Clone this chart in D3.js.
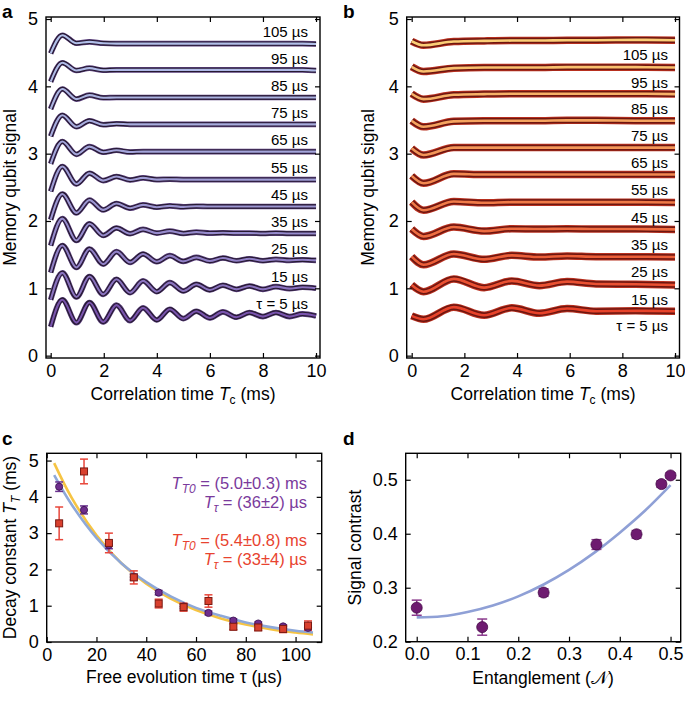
<!DOCTYPE html>
<html><head><meta charset="utf-8">
<script src="https://cdn.jsdelivr.net/npm/d3@7"></script>
<style>body{margin:0;background:#fff}</style>
</head><body><svg id="chart" width="685" height="701"></svg>
<script>
// ---------- DATA ----------
const tauValues = [5, 15, 25, 35, 45, 55, 65, 75, 85, 95, 105];
const traceLabels = ["\u03C4 = 5 \u00B5s", "15 \u00B5s", "25 \u00B5s", "35 \u00B5s", "45 \u00B5s", "55 \u00B5s", "65 \u00B5s", "75 \u00B5s", "85 \u00B5s", "95 \u00B5s", "105 \u00B5s"];

// panel a: correlation time (ms) of extrema, and signal at those times (one row per tau)
const timesA = [0, 0.44, 0.97, 1.46, 1.98, 2.48, 2.99, 3.48, 4.0, 4.49, 5.0, 5.49, 6.0, 6.49, 7.0, 7.49, 8.0, 8.49, 9.0, 9.49, 10.0];
const signalA5   = [0.43, 0.83, 0.49, 0.79, 0.50, 0.75, 0.52, 0.71, 0.53, 0.69, 0.55, 0.66, 0.56, 0.65, 0.57, 0.64, 0.58, 0.64, 0.58, 0.62, 0.59];
const signalA15  = [0.83, 1.23, 0.87, 1.175, 0.91, 1.135, 0.935, 1.11, 0.95, 1.085, 0.96, 1.06, 0.975, 1.045, 0.985, 1.035, 0.985, 1.025, 0.995, 1.015, 1.0];
const signalA25  = [1.235, 1.635, 1.31, 1.585, 1.36, 1.545, 1.385, 1.51, 1.395, 1.485, 1.40, 1.46, 1.405, 1.45, 1.41, 1.44, 1.41, 1.43, 1.415, 1.425, 1.415];
const signalA35  = [1.635, 2.035, 1.71, 1.96, 1.785, 1.895, 1.81, 1.875, 1.82, 1.85, 1.815, 1.835, 1.82, 1.825, 1.82, 1.82, 1.815, 1.82, 1.815, 1.815, 1.815];
const signalA45  = [2.02, 2.40, 2.12, 2.31, 2.165, 2.26, 2.19, 2.24, 2.205, 2.225, 2.21, 2.22, 2.215, 2.215, 2.215, 2.215, 2.215, 2.215, 2.215, 2.215, 2.215];
const signalA55  = [2.44, 2.81, 2.55, 2.71, 2.60, 2.66, 2.61, 2.64, 2.615, 2.62, 2.615, 2.615, 2.615, 2.615, 2.615, 2.615, 2.615, 2.615, 2.615, 2.615, 2.615];
const signalA65  = [2.85, 3.18, 2.99, 3.105, 3.02, 3.05, 3.025, 3.03, 3.03, 3.03, 3.03, 3.03, 3.03, 3.03, 3.03, 3.03, 3.03, 3.03, 3.03, 3.03, 3.03];
const signalA75  = [3.26, 3.57, 3.40, 3.49, 3.43, 3.445, 3.435, 3.435, 3.435, 3.435, 3.435, 3.435, 3.435, 3.435, 3.435, 3.435, 3.435, 3.435, 3.435, 3.435, 3.435];
const signalA85  = [3.665, 3.96, 3.81, 3.87, 3.83, 3.835, 3.835, 3.835, 3.835, 3.835, 3.835, 3.835, 3.835, 3.835, 3.835, 3.835, 3.835, 3.835, 3.835, 3.835, 3.835];
const signalA95  = [4.07, 4.35, 4.235, 4.27, 4.24, 4.245, 4.245, 4.245, 4.245, 4.245, 4.245, 4.245, 4.245, 4.245, 4.245, 4.245, 4.245, 4.245, 4.245, 4.245, 4.235];
const signalA105 = [4.49, 4.76, 4.64, 4.66, 4.64, 4.635, 4.635, 4.635, 4.635, 4.635, 4.635, 4.635, 4.635, 4.635, 4.635, 4.635, 4.635, 4.635, 4.635, 4.635, 4.63];

// panel b
const timesB = [0, 0.45, 1.6, 2.75, 3.8, 4.85, 5.9, 7.0, 8.5, 10.0];
const signalB5   = [0.59, 0.54, 0.72, 0.60, 0.71, 0.63, 0.70, 0.66, 0.665, 0.66];
const signalB15  = [1.05, 0.95, 1.14, 1.01, 1.11, 1.04, 1.10, 1.065, 1.06, 1.05];
const signalB25  = [1.47, 1.35, 1.51, 1.43, 1.49, 1.465, 1.48, 1.47, 1.47, 1.465];
const signalB35  = [1.88, 1.77, 1.91, 1.85, 1.885, 1.88, 1.885, 1.88, 1.88, 1.875];
const signalB45  = [2.28, 2.16, 2.29, 2.27, 2.28, 2.28, 2.28, 2.28, 2.28, 2.275];
const signalB55  = [2.67, 2.56, 2.70, 2.69, 2.69, 2.69, 2.69, 2.69, 2.69, 2.69];
const signalB65  = [3.08, 2.98, 3.09, 3.09, 3.09, 3.09, 3.09, 3.09, 3.09, 3.09];
const signalB75  = [3.49, 3.40, 3.48, 3.49, 3.49, 3.49, 3.495, 3.495, 3.49, 3.49];
const signalB85  = [3.89, 3.81, 3.875, 3.885, 3.89, 3.89, 3.89, 3.89, 3.89, 3.885];
const signalB95  = [4.29, 4.22, 4.27, 4.28, 4.28, 4.28, 4.285, 4.285, 4.285, 4.28];
const signalB105 = [4.67, 4.61, 4.665, 4.675, 4.68, 4.68, 4.685, 4.685, 4.69, 4.685];

// panel c: decay constants (ms)
const tauC = [5, 15, 25, 35, 45, 55, 65, 75, 85, 95, 105];
const decayA    = [4.28, 3.64, 2.67, 1.79, 1.36, 0.98, 0.80, 0.59, 0.51, 0.43, 0.39];
const decayAErr = [0.13, 0.11, 0.10, 0.08, 0.06, 0.06, 0.05, 0.05, 0.04, 0.04, 0.04];
const decayB    = [3.27, 4.70, 2.73, 1.78, 1.06, 0.96, 1.13, 0.42, 0.40, 0.36, 0.45];
const decayBErr = [0.45, 0.34, 0.27, 0.18, 0.12, 0.11, 0.17, 0.08, 0.08, 0.10, 0.13];
const fitTauC    = [3, 10, 20, 30, 40, 50, 60, 70, 80, 90, 100, 107];
const fitBlueC   = [4.60, 3.79, 2.87, 2.17, 1.65, 1.25, 0.94, 0.72, 0.54, 0.41, 0.31, 0.26];
const fitYellowC = [4.93, 3.98, 2.94, 2.17, 1.61, 1.19, 0.88, 0.65, 0.48, 0.35, 0.26, 0.21];

// panel d
const entanglement = [0.0, 0.129, 0.25, 0.354, 0.433, 0.482, 0.5];
const contrast     = [0.263, 0.227, 0.291, 0.380, 0.399, 0.492, 0.508];
const contrastErr  = [0.014, 0.015, 0.007, 0.009, 0.007, 0.006, 0.005];
const fitEnt       = [0, 0.05, 0.1, 0.15, 0.2, 0.25, 0.3, 0.35, 0.4, 0.45, 0.5];
const fitContrast  = [0.245, 0.247, 0.255, 0.267, 0.284, 0.306, 0.333, 0.365, 0.402, 0.443, 0.490];

const ticksA = [0, 2, 4, 6, 8, 10], ticksAy = [0, 1, 2, 3, 4, 5];
const ticksCx = [0, 20, 40, 60, 80, 100], ticksCy = [0, 1, 2, 3, 4, 5];
const ticksDx = [0, 0.1, 0.2, 0.3, 0.4, 0.5], ticksDy = [0.2, 0.3, 0.4, 0.5];

// ---------- DRAW ----------
const FONT = '"Liberation Sans", Arial, Helvetica, sans-serif';
const svg = d3.select("#chart").attr("font-family", FONT);
svg.append("rect").attr("width", 685).attr("height", 701).attr("fill", "#fff");

function styleAxis(sel) {
  sel.select(".domain").remove();
  sel.selectAll("line").attr("stroke", "#000").attr("stroke-width", 1.2);
  sel.attr("font-family", FONT).attr("font-size", 18);
  sel.selectAll("text").attr("fill", "#000");
}
function drawFrame(x, y, xt, yt, xf, yf) {
  const [x0, x1] = x.range(), [yb, yt0] = y.range();
  const g = svg.append("g");
  g.append("g").attr("transform", `translate(0,${yb})`)
    .call(d3.axisBottom(x).tickValues(xt).tickFormat(xf).tickSizeInner(-5).tickSizeOuter(0).tickPadding(6)).call(styleAxis);
  g.append("g").attr("transform", `translate(0,${yt0})`)
    .call(d3.axisTop(x).tickValues(xt).tickFormat("").tickSizeInner(-5).tickSizeOuter(0)).call(styleAxis);
  g.append("g").attr("transform", `translate(${x0},0)`)
    .call(d3.axisLeft(y).tickValues(yt).tickFormat(yf).tickSizeInner(-5).tickSizeOuter(0).tickPadding(8)).call(styleAxis);
  g.append("g").attr("transform", `translate(${x1},0)`)
    .call(d3.axisRight(y).tickValues(yt).tickFormat("").tickSizeInner(-5).tickSizeOuter(0)).call(styleAxis);
  g.append("rect").attr("x", x0).attr("y", yt0).attr("width", x1 - x0).attr("height", yb - yt0)
    .attr("fill", "none").attr("stroke", "#000").attr("stroke-width", 1.4);
}
function panelLetter(t, x, y) {
  svg.append("text").attr("x", x).attr("y", y).attr("font-weight", "bold").attr("font-size", 19).text(t);
}
function yTitle(x, y, parts) {
  const t = svg.append("text").attr("transform", `translate(${x},${y}) rotate(-90)`)
    .attr("text-anchor", "middle").attr("font-size", 17.5);
  parts.forEach(p => addPart(t, p));
}
function xTitle(x, y, parts) {
  const t = svg.append("text").attr("x", x).attr("y", y).attr("text-anchor", "middle").attr("font-size", 17.5);
  parts.forEach(p => addPart(t, p));
}
function addPart(t, p) {
  const s = t.append("tspan").text(p.t);
  if (p.i) s.attr("font-style", "italic");
  if (p.fs) s.attr("font-size", p.fs);
  if (p.dy) s.attr("dy", p.dy);
  if (p.fill) s.attr("fill", p.fill);
}

// ----- panel a -----
const xa = d3.scaleLinear().domain([-0.177, 10.15]).range([46, 320]);
const ya = d3.scaleLinear().domain([-0.035, 5.03]).range([358, 17]);
const signalsA = [signalA5, signalA15, signalA25, signalA35, signalA45, signalA55, signalA65, signalA75, signalA85, signalA95, signalA105];
const lineA = d3.line().x(d => xa(d[0])).y(d => ya(d[1])).curve(d3.curveMonotoneX);
const colA = i => d3.interpolateRgb("#7a54ae", "#b2bfea")(Math.pow(i / 10, 0.55));
signalsA.forEach((s, i) => {
  const pts = timesA.map((t, k) => [t, s[k]]);
  svg.append("path").attr("d", lineA(pts)).attr("fill", "none").attr("stroke", "#5a3f7c").attr("stroke-width", 5.6).attr("stroke-linejoin", "round");
  svg.append("path").attr("d", lineA(pts)).attr("fill", "none").attr("stroke", "#261932").attr("stroke-width", 4.4).attr("stroke-linejoin", "round");
  svg.append("path").attr("d", lineA(pts)).attr("fill", "none").attr("stroke", colA(i)).attr("stroke-width", 2.1);
  svg.append("text").attr("x", xa(10) - 8).attr("y", ya(s[s.length - 1] + 0.1))
    .attr("text-anchor", "end").attr("font-size", 15).text(traceLabels[i]);
});
drawFrame(xa, ya, ticksA, ticksAy, d3.format("d"), d3.format("d"));

// ----- panel b -----
const xb = d3.scaleLinear().domain([-0.19, 10.17]).range([406.7, 679.5]);
const yb = d3.scaleLinear().domain([-0.035, 5.03]).range([358, 17]);
const signalsB = [signalB5, signalB15, signalB25, signalB35, signalB45, signalB55, signalB65, signalB75, signalB85, signalB95, signalB105];
const lineB = d3.line().x(d => xb(d[0])).y(d => yb(d[1])).curve(d3.curveMonotoneX);
const colB = i => d3.interpolateRgb("#e8432a", "#fbce76")(i / 10);
signalsB.forEach((s, i) => {
  const pts = timesB.map((t, k) => [t, s[k]]);
  svg.append("path").attr("d", lineB(pts)).attr("fill", "none").attr("stroke", "#b8301f").attr("stroke-width", 7.5).attr("stroke-linejoin", "round");
  svg.append("path").attr("d", lineB(pts)).attr("fill", "none").attr("stroke", "#6e1610").attr("stroke-width", 5.6).attr("stroke-linejoin", "round");
  svg.append("path").attr("d", lineB(pts)).attr("fill", "none").attr("stroke", colB(i)).attr("stroke-width", 2.6);
  svg.append("text").attr("x", xb(10) - 7).attr("y", yb(s[s.length - 1] - 0.3))
    .attr("text-anchor", "end").attr("font-size", 15).text(traceLabels[i]);
});
drawFrame(xb, yb, ticksA, ticksAy, d3.format("d"), d3.format("d"));

// ----- panel c -----
const xc = d3.scaleLinear().domain([0, 110.5]).range([46.7, 321.7]);
const yc = d3.scaleLinear().domain([0, 5.2]).range([642, 453.3]);
const lineC = d3.line().x(d => xc(d[0])).y(d => yc(d[1])).curve(d3.curveCatmullRom);
svg.append("path").attr("d", lineC(fitTauC.map((t, k) => [t, fitYellowC[k]]))).attr("fill", "none").attr("stroke", "#f6c443").attr("stroke-width", 2.6);
svg.append("path").attr("d", lineC(fitTauC.map((t, k) => [t, fitBlueC[k]]))).attr("fill", "none").attr("stroke", "#8ea8d8").attr("stroke-width", 2.6);
function errBars(xs, ys, es, xS, yS, col, cap) {
  xs.forEach((t, k) => {
    const X = xS(t), Y0 = yS(ys[k] - es[k]), Y1 = yS(ys[k] + es[k]);
    const g = svg.append("g").attr("stroke", col).attr("stroke-width", 1.5);
    g.append("line").attr("x1", X).attr("x2", X).attr("y1", Y0).attr("y2", Y1);
    g.append("line").attr("x1", X - cap).attr("x2", X + cap).attr("y1", Y0).attr("y2", Y0);
    g.append("line").attr("x1", X - cap).attr("x2", X + cap).attr("y1", Y1).attr("y2", Y1);
  });
}
errBars(tauC, decayB, decayBErr, xc, yc, "#e8463a", 4);
errBars(tauC, decayA, decayAErr, xc, yc, "#6a3290", 4);
tauC.forEach((t, k) => {
  svg.append("circle").attr("cx", xc(t)).attr("cy", yc(decayA[k])).attr("r", 3.6)
    .attr("fill", "#6e2d8c").attr("stroke", "#3a1050").attr("stroke-width", 0.8);
});
tauC.forEach((t, k) => {
  svg.append("rect").attr("x", xc(t) - 3.5).attr("y", yc(decayB[k]) - 3.5).attr("width", 7).attr("height", 7)
    .attr("fill", "#d9402e").attr("stroke", "#7a1a12").attr("stroke-width", 1);
});
drawFrame(xc, yc, ticksCx, ticksCy, d3.format("d"), d3.format("d"));
function annot(y, col, sub, rest) {
  const t = svg.append("text").attr("x", 307).attr("y", y).attr("text-anchor", "end").attr("font-size", 16.5).attr("fill", col);
  addPart(t, { t: "T", i: true });
  addPart(t, { t: sub, i: true, fs: 12, dy: 4 });
  addPart(t, { t: rest, dy: -4 });
}
annot(489, "#7a3a9c", "T0", " = (5.0\u00B10.3) ms");
annot(508, "#7a3a9c", "\u03C4", " = (36\u00B12) \u00B5s");
annot(546, "#e8432f", "T0", " = (5.4\u00B10.8) ms");
annot(565, "#e8432f", "\u03C4", " = (33\u00B14) \u00B5s");

// ----- panel d -----
const xd = d3.scaleLinear().domain([-0.0217, 0.52]).range([405.7, 680.7]);
const yd = d3.scaleLinear().domain([0.2, 0.549]).range([641.7, 453.3]);
const lineD = d3.line().x(d => xd(d[0])).y(d => yd(d[1])).curve(d3.curveCatmullRom);
svg.append("path").attr("d", lineD(fitEnt.map((t, k) => [t, fitContrast[k]]))).attr("fill", "none").attr("stroke", "#8fa0d6").attr("stroke-width", 2.6);
errBars(entanglement, contrast, contrastErr, xd, yd, "#8a3a8c", 5);
entanglement.forEach((t, k) => {
  svg.append("circle").attr("cx", xd(t)).attr("cy", yd(contrast[k])).attr("r", 5.5)
    .attr("fill", "#6e1b70").attr("stroke", "#450a48").attr("stroke-width", 0.8);
});
drawFrame(xd, yd, ticksDx, ticksDy, d3.format(".1f"), d3.format(".1f"));

// ----- titles -----
panelLetter("a", 2, 18);
panelLetter("b", 343, 18);
panelLetter("c", 2, 445);
panelLetter("d", 343, 445);
yTitle(16, 187.5, [{ t: "Memory qubit signal" }]);
yTitle(374, 187.5, [{ t: "Memory qubit signal" }]);
xTitle(183, 400, [{ t: "Correlation time " }, { t: "T", i: true }, { t: "c", fs: 12, dy: 4 }, { t: " (ms)", dy: -4 }]);
xTitle(543, 400, [{ t: "Correlation time " }, { t: "T", i: true }, { t: "c", fs: 12, dy: 4 }, { t: " (ms)", dy: -4 }]);
yTitle(16, 547.5, [{ t: "Decay constant  " }, { t: "T", i: true }, { t: "T", i: true, fs: 12, dy: 4 }, { t: " (ms)", dy: -4 }]);
xTitle(184, 683, [{ t: "Free evolution time \u03C4 (\u00B5s)" }]);
yTitle(361, 547.5, [{ t: "Signal contrast" }]);
xTitle(543, 684, [{ t: "Entanglement (" }, { t: "\uD835\uDCA9" }, { t: ")" }]);
</script></body></html>
